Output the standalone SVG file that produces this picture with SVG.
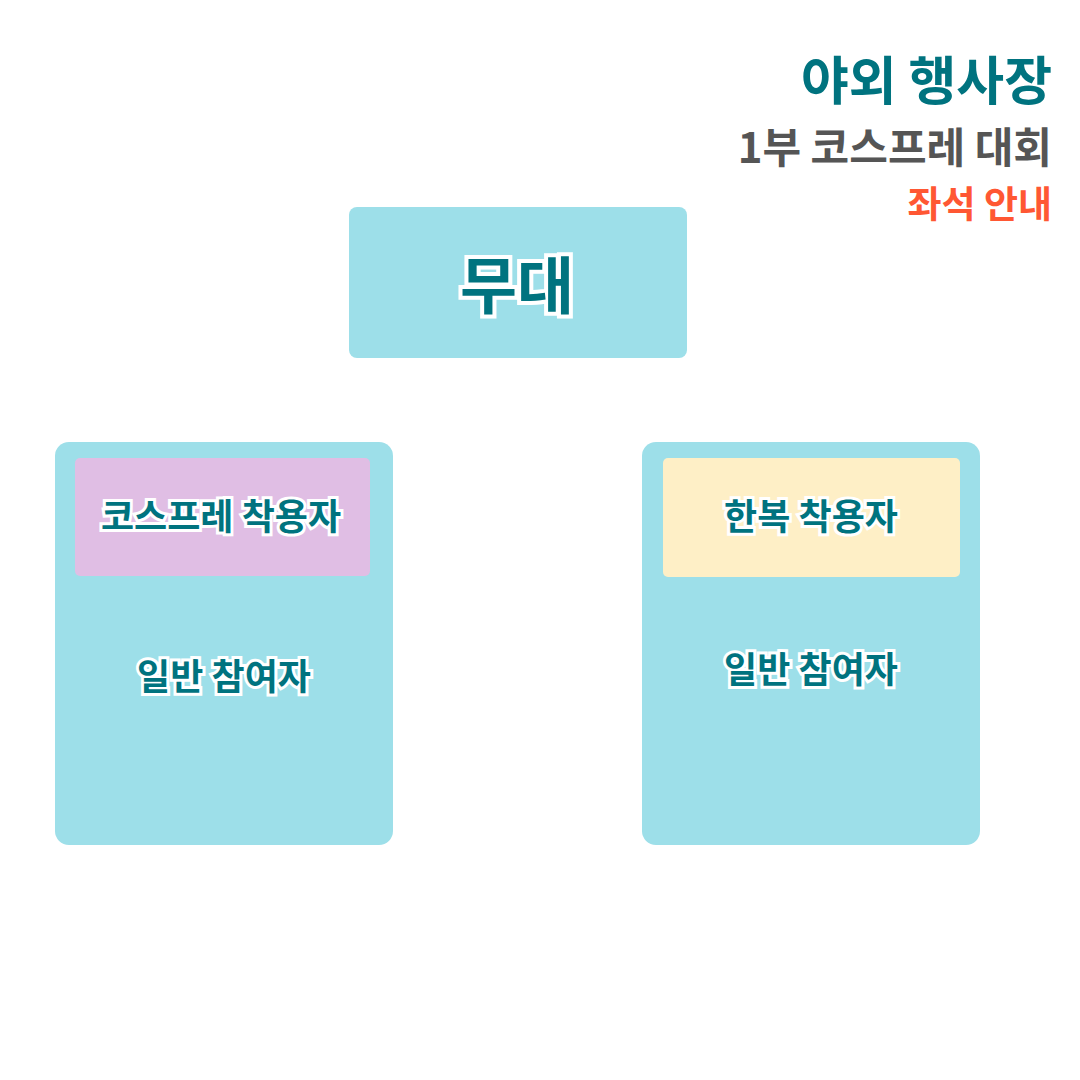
<svg xmlns="http://www.w3.org/2000/svg" width="1080" height="1080" viewBox="0 0 1080 1080">
<style>
.zone{fill:#9DDFE9}
.lbl{font-family:"Noto Sans CJK KR","Noto Sans",sans-serif;font-weight:700;fill:#00737F;stroke:#FFFFFF;stroke-width:6;paint-order:stroke;stroke-linejoin:miter;text-anchor:middle;dominant-baseline:central}
.title{font-family:"Noto Sans CJK KR","Noto Sans",sans-serif;font-weight:700;text-anchor:end}
</style>
<rect width="1080" height="1080" fill="#FFFFFF"/>
<g id="header">
<text class="title" x="1052" y="100" font-size="52" fill="#00737F">야외 행사장</text>
<text class="title" x="1052" y="163" font-size="42" fill="#555555">1부 코스프레 대회</text>
<text class="title" x="1052" y="218" font-size="37" fill="#FF5733">좌석 안내</text>
</g>
<g id="stage">
<rect class="zone" x="349" y="207" width="338" height="151" rx="8"/>
<text class="lbl" x="517" y="282" font-size="62" style="stroke-width:8">무대</text>
</g>
<g id="left-section">
<rect class="zone" x="55" y="442" width="338" height="403" rx="14"/>
<g id="cosplay">
<rect x="75" y="458" width="295" height="118" rx="5" fill="#E0BEE4"/>
<text class="lbl" x="221" y="514" font-size="36">코스프레 착용자</text>
</g>
<text class="lbl" x="224" y="674" font-size="36">일반 참여자</text>
</g>
<g id="right-section">
<rect class="zone" x="642" y="442" width="338" height="403" rx="14"/>
<g id="hanbok">
<rect x="663" y="458" width="297" height="119" rx="5" fill="#FEEFC6"/>
<text class="lbl" x="811" y="514" font-size="36">한복 착용자</text>
</g>
<text class="lbl" x="811" y="667" font-size="36">일반 참여자</text>
</g>
<g id="connectors"/>
</svg>
